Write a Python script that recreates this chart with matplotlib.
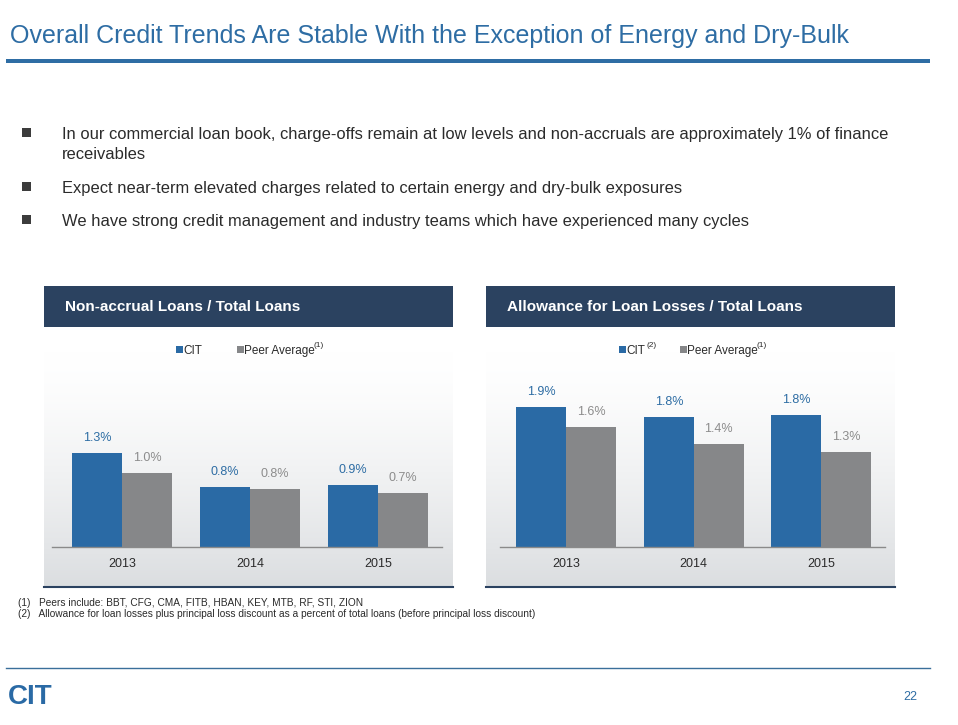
import numpy as np
import matplotlib.pyplot as plt
from matplotlib.patches import Rectangle

plt.rcParams['font.family'] = ['Liberation Sans', 'DejaVu Sans']

# Datos
years = ["2013", "2014", "2015"]
nonaccrual_cit = [1.28, 0.81, 0.84]
nonaccrual_peer = [1.00, 0.79, 0.73]
nonaccrual_cit_lbl = ["1.3%", "0.8%", "0.9%"]
nonaccrual_peer_lbl = ["1.0%", "0.8%", "0.7%"]
allowance_cit = [1.90, 1.76, 1.79]
allowance_peer = [1.63, 1.40, 1.29]
allowance_cit_lbl = ["1.9%", "1.8%", "1.8%"]
allowance_peer_lbl = ["1.6%", "1.4%", "1.3%"]

bullets = [
    "In our commercial loan book, charge-offs remain at low levels and non-accruals are approximately 1% of finance\nreceivables",
    "Expect near-term elevated charges related to certain energy and dry-bulk exposures",
    "We have strong credit management and industry teams which have experienced many cycles",
]
footnotes = [
    "Peers include: BBT, CFG, CMA, FITB, HBAN, KEY, MTB, RF, STI, ZION",
    "Allowance for loan losses plus principal loss discount as a percent of total loans (before principal loss discount)",
]

BLUE = "#2A6AA5"
GRAY = "#868789"
NAVY = "#2B4260"
TITLE_BLUE = "#2E6DA4"
TEXT = "#2B2B2B"

W, H = 958, 725
fig = plt.figure(figsize=(W / 100, H / 100), dpi=100)
fig.patch.set_facecolor("white")

# eje de fondo en pixeles
bg = fig.add_axes([0, 0, 1, 1])
bg.axis("off")

# titulo
bg.text(10, 36, "Overall Credit Trends Are Stable With the Exception of Energy and Dry-Bulk",
        fontsize=18, color=TITLE_BLUE, va="center", ha="left")
bg.add_patch(Rectangle((6, 59), 924, 4, color=TITLE_BLUE, lw=0))

# viñetas
bullet_y = [133, 187, 220]
for y, txt in zip(bullet_y, bullets):
    bg.add_patch(Rectangle((22, y - 5), 9, 9, color="#3C3C3C", lw=0))
    bg.text(62, y - 6, txt, fontsize=11.9, color=TEXT, va="top", ha="left", linespacing=1.45)

# paneles
panels = [(44, "Non-accrual Loans / Total Loans", 65),
          (486, "Allowance for Loan Losses / Total Loans", 507)]
grad = np.linspace(0, 1, 300)
grad = np.clip((grad - 0.1) / 0.9, 0, 1) ** 1.4
start = np.array([1.0, 1.0, 1.0])
end = np.array([0.86, 0.87, 0.88])
img = start[None, None, :] * (1 - grad[:, None, None]) + end[None, None, :] * grad[:, None, None]
for x0, head, tx in panels:
    bg.imshow(img, extent=(x0, x0 + 409, 586, 327), aspect="auto", origin="upper",
              zorder=0, interpolation="bilinear")
    bg.add_patch(Rectangle((x0, 286), 409, 41, color=NAVY, lw=0, zorder=1))
    bg.text(tx, 307, head, fontsize=11, fontweight="bold", color="white", va="center", ha="left")
    bg.plot([x0, x0 + 409], [586.5, 586.5], color=NAVY, lw=1.5)


# leyendas
def legend(x_cit, cit_sup, x_peer):
    bg.add_patch(Rectangle((x_cit, 346), 7, 7, color=BLUE, lw=0))
    bg.text(x_cit + 7, 353.5, "CIT", fontsize=8.5, color=TEXT, va="baseline", ha="left")
    if cit_sup:
        bg.text(x_cit + 28, 347, cit_sup, fontsize=6, color=TEXT, va="baseline", ha="left")
    bg.add_patch(Rectangle((x_peer, 346), 7, 7, color=GRAY, lw=0))
    bg.text(x_peer + 7, 353.5, "Peer Average", fontsize=8.5, color=TEXT, va="baseline", ha="left")
    bg.text(x_peer + 77, 347, "(1)", fontsize=6, color=TEXT, va="baseline", ha="left")


legend(176, None, 237)
legend(619, "(2)", 680)


def bar_chart(rect, xlim, cit, peer, cit_lbl, peer_lbl):
    ax = fig.add_axes(rect)
    ax.set_facecolor("none")
    x = np.arange(len(years))
    w = 50 / 128
    ax.bar(x - w / 2, cit, w, color=BLUE)
    ax.bar(x + w / 2, peer, w, color=GRAY)
    for xi, v, lbl in zip(x, cit, cit_lbl):
        ax.text(xi - w / 2, v + 0.12, lbl, fontsize=9, color=TITLE_BLUE, ha="center", va="bottom")
    for xi, v, lbl in zip(x, peer, peer_lbl):
        ax.text(xi + w / 2, v + 0.12, lbl, fontsize=9, color="#8C8C8C", ha="center", va="bottom")
    ax.set_xlim(*xlim)
    ax.set_ylim(0, 2.4)
    ax.set_xticks(x)
    ax.set_xticklabels(years, fontsize=9, color=TEXT)
    ax.tick_params(length=0, pad=8)
    ax.set_yticks([])
    for s in ["top", "right", "left"]:
        ax.spines[s].set_visible(False)
    ax.spines["bottom"].set_color("#8A8A8A")
    ax.spines["bottom"].set_linewidth(1)
    return ax


ppu = 73.7
h_ax = 2.4 * ppu
bottom = (H - 547) / H
bar_chart([52 / W, bottom, 390 / W, h_ax / H], (-0.547, 2.5),
          nonaccrual_cit, nonaccrual_peer, nonaccrual_cit_lbl, nonaccrual_peer_lbl)
bar_chart([500 / W, bottom, 385 / W, h_ax / H], (-0.52, 2.5),
          allowance_cit, allowance_peer, allowance_cit_lbl, allowance_peer_lbl)

# notas al pie
for i, fn in enumerate(footnotes):
    y = 606 + i * 11
    bg.text(18, y, "(%d)   %s" % (i + 1, fn), fontsize=7.3, color=TEXT, va="baseline", ha="left")

# pie de pagina
bg.plot([6, 930], [668, 668], color="#3A6F9A", lw=1)
bg.text(8, 697, "CIT", fontsize=20, fontweight="heavy", color=BLUE, va="center", ha="left")
bg.text(917, 697, "22", fontsize=9, color=TITLE_BLUE, va="center", ha="right")

bg.set_xlim(0, W)
bg.set_ylim(H, 0)

fig.savefig("out.png", dpi=100)
